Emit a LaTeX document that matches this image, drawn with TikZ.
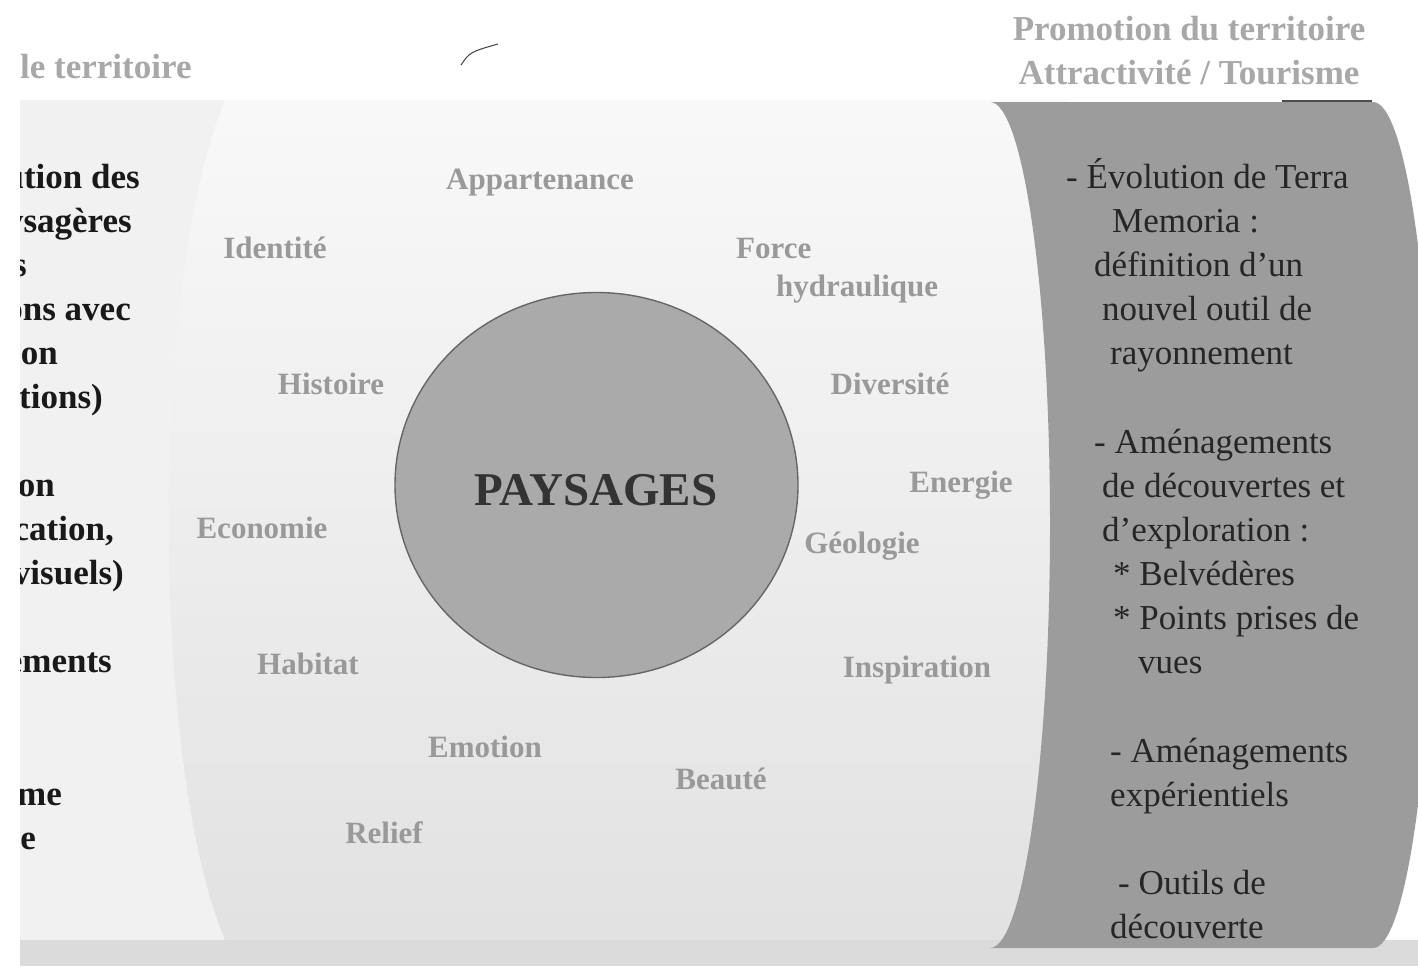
\documentclass[tikz,border=0pt]{standalone}
\usepackage{fontspec}
\setmainfont{Liberation Serif}
\usetikzlibrary{shapes.geometric}

\definecolor{fondgauche}{gray}{0.945}
\definecolor{fondhaut}{gray}{0.975}
\definecolor{fondbas}{gray}{0.885}
\definecolor{basgris}{gray}{0.86}
\definecolor{bandefond}{gray}{0.61}
\definecolor{cerclefond}{gray}{0.665}
\definecolor{cerclebord}{gray}{0.4}
\definecolor{motgris}{gray}{0.6}
\definecolor{titregris}{gray}{0.66}

\begin{document}
\begin{tikzpicture}[x=1pt, y=-1pt,
    mot/.style={font=\fontsize{31}{36}\selectfont\bfseries, text=motgris, anchor=base, inner sep=0pt},
    ligne/.style={font=\fontsize{35}{44}\selectfont, text=black!85, anchor=base west, inner sep=0pt},
    bord/.style={font=\fontsize{35}{44}\selectfont\bfseries, text=black!90, anchor=base east, inner sep=0pt},
    entete/.style={font=\fontsize{35}{44}\selectfont\bfseries, text=titregris, inner sep=0pt}]
    \useasboundingbox (0,0) rectangle (1418,966);
    \fill[white] (0,0) rectangle (1418,966);

    % fonds
    \fill[fondgauche] (20,100) rectangle (240,940);
    \shade[top color=fondhaut, bottom color=fondbas] (225,100) -- (1070,100) -- (1070,940) -- (225,940)
        .. controls (150,760) and (150,280) .. (225,100) -- cycle;
    \fill[basgris] (20,940) rectangle (1418,966);

    % bande de droite
    \fill[bandefond] (990,102) -- (1373,102) arc[start angle=90, end angle=-90, x radius=60pt, y radius=423pt]
        -- (990,948) arc[start angle=-90, end angle=90, x radius=60pt, y radius=423pt] -- cycle;
    \draw[black!70, line width=2pt] (1282,101) -- (1372,101);
    \draw[black!75, line width=1pt] (461,65) .. controls (470,52) .. (498,44);

    % titres
    \node[entete] (promo) at (1189,29) {Promotion du territoire};
    \node[entete] (attract) at (1189,73) {Attractivité / Tourisme};
    \node[entete, anchor=west] (terr) at (20,67) {le territoire};

    % cercle
    \node[ellipse, draw=cerclebord, line width=1.4pt, fill=cerclefond, minimum width=403pt,
        minimum height=385pt, inner sep=0pt] (cercle) at (596.5,485) {};
    \node[font=\fontsize{47}{50}\selectfont\bfseries, text=black!80] (paysages) at (596,490) {PAYSAGES};

    % mots
    \node[mot] (appartenance) at (540,189) {Appartenance};
    \node[mot] (identite) at (275,258) {Identité};
    \node[mot, anchor=base west] (force) at (736,258) {Force};
    \node[mot, anchor=base west] (hydraulique) at (776,296) {hydraulique};
    \node[mot] (histoire) at (331,394) {Histoire};
    \node[mot] (diversite) at (890,394) {Diversité};
    \node[mot] (energie) at (961,492) {Energie};
    \node[mot] (economie) at (262,538) {Economie};
    \node[mot] (geologie) at (862,553) {Géologie};
    \node[mot] (habitat) at (308,674) {Habitat};
    \node[mot] (inspiration) at (917,677) {Inspiration};
    \node[mot] (emotion) at (485,757) {Emotion};
    \node[mot] (beaute) at (721,789) {Beauté};
    \node[mot] (relief) at (384,843) {Relief};

    % texte de la bande
    \node[ligne] (b1) at (1066,188) {- Évolution de Terra};
    \node[ligne] (b2) at (1112,232) {Memoria :};
    \node[ligne] (b3) at (1094,276) {définition d’un};
    \node[ligne] (b4) at (1102,320) {nouvel outil de};
    \node[ligne] (b5) at (1110,364) {rayonnement};
    \node[ligne] (b6) at (1094,453) {- Aménagements};
    \node[ligne] (b7) at (1102,497) {de découvertes et};
    \node[ligne] (b8) at (1102,541) {d’exploration :};
    \node[ligne] (b9) at (1113,585) {* Belvédères};
    \node[ligne] (b10) at (1113,629) {* Points prises de};
    \node[ligne] (b11) at (1138,673) {vues};
    \node[ligne] (b12) at (1110,762) {- Aménagements};
    \node[ligne] (b13) at (1110,806) {expérientiels};
    \node[ligne] (b14) at (1118,894) {- Outils de};
    \node[ligne] (b15) at (1110,938) {découverte};

    % texte coupe a gauche
    \begin{scope}
        \clip (20,0) rectangle (1418,966);
        \node[bord] (g1) at (140,188) {ution des};
        \node[bord] (g2) at (132,232) {ysagères};
        \node[bord] (g3) at (27,276) {s};
        \node[bord] (g4) at (131,320) {ons avec};
        \node[bord] (g5) at (58,364) {on};
        \node[bord] (g6) at (103,408) {tions)};
        \node[bord] (g7) at (55,496) {on};
        \node[bord] (g8) at (114,540) {cation,};
        \node[bord] (g9) at (124,584) {visuels)};
        \node[bord] (g10) at (112,672) {ements};
        \node[bord] (g11) at (62,805) {me};
        \node[bord] (g12) at (36,849) {e};
    \end{scope}
\end{tikzpicture}
\end{document}
